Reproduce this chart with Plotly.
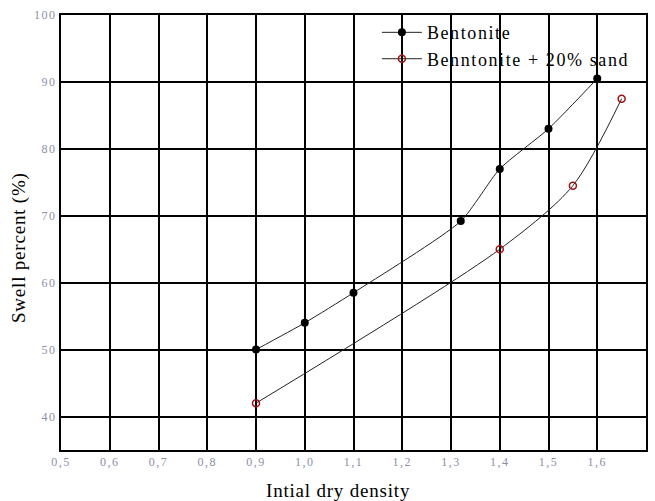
import plotly.graph_objects as go

# Swell percent vs initial dry density
bent_x = [0.9, 1.0, 1.1, 1.32, 1.4, 1.5, 1.6]
bent_y = [50.0, 54.0, 58.5, 69.2, 77.0, 83.0, 90.5]

sand_x = [0.9, 1.4, 1.55, 1.65]
sand_y = [42.0, 65.0, 74.5, 87.5]

x_ticks = [0.5, 0.6, 0.7, 0.8, 0.9, 1.0, 1.1, 1.2, 1.3, 1.4, 1.5, 1.6, 1.7]
y_ticks = [40, 50, 60, 70, 80, 90, 100]

serif = "Liberation Serif, Times New Roman, serif"
tick_color = "#8a8fa8"


def spaced(text, px):
    return f'<span style="letter-spacing:{px}px">{text}</span>'


fig = go.Figure()
fig.add_trace(go.Scatter(
    x=bent_x, y=bent_y, mode="lines+markers", name=spaced("Bentonite", 1.6),
    line=dict(color="#222222", width=1, shape="spline", smoothing=0.6),
    marker=dict(symbol="circle", size=8, color="black"),
))
fig.add_trace(go.Scatter(
    x=sand_x, y=sand_y, mode="lines+markers",
    name=spaced("Benntonite + 20% sand", 1.6),
    line=dict(color="#222222", width=1, shape="spline", smoothing=0.8),
    marker=dict(symbol="circle-open", size=7, color="#a01010",
                line=dict(width=1.5, color="#a01010")),
))

axis_common = dict(
    showgrid=True, gridcolor="black", gridwidth=1.5,
    showline=True, linecolor="black", linewidth=2, mirror=True,
    zeroline=False, ticks="", automargin=False,
    tickfont=dict(family=serif, size=12, color=tick_color),
)

fig.update_xaxes(
    range=[0.5, 1.7], tickvals=x_ticks,
    ticktext=[spaced(f"{v:.1f}".replace(".", ","), 1.5) for v in x_ticks],
    **axis_common,
)
fig.update_yaxes(
    range=[35, 100], tickvals=y_ticks,
    ticktext=[spaced(str(v), 1.5) for v in y_ticks],
    **axis_common,
)

fig.add_annotation(
    text=spaced("Intial dry density", 0.8), xref="paper", yref="paper",
    x=0.473, y=-0.092, xanchor="center", yanchor="middle", showarrow=False,
    font=dict(family=serif, size=19, color="black"),
)
fig.add_annotation(
    text=spaced("Swell percent (%)", 0.8), xref="paper", yref="paper",
    x=-0.073, y=0.465, xanchor="center", yanchor="middle", showarrow=False,
    textangle=-90, font=dict(family=serif, size=19, color="black"),
)

fig.update_layout(
    width=655, height=501,
    margin=dict(l=61, r=9, t=15, b=51, autoexpand=False),
    paper_bgcolor="white", plot_bgcolor="white",
    showlegend=True,
    legend=dict(
        x=0.54, y=1.002, xanchor="left", yanchor="top",
        bgcolor="rgba(0,0,0,0)", borderwidth=0, itemwidth=40,
        tracegroupgap=0,
        font=dict(family=serif, size=18, color="black"),
    ),
)

fig.write_html("out.html")
